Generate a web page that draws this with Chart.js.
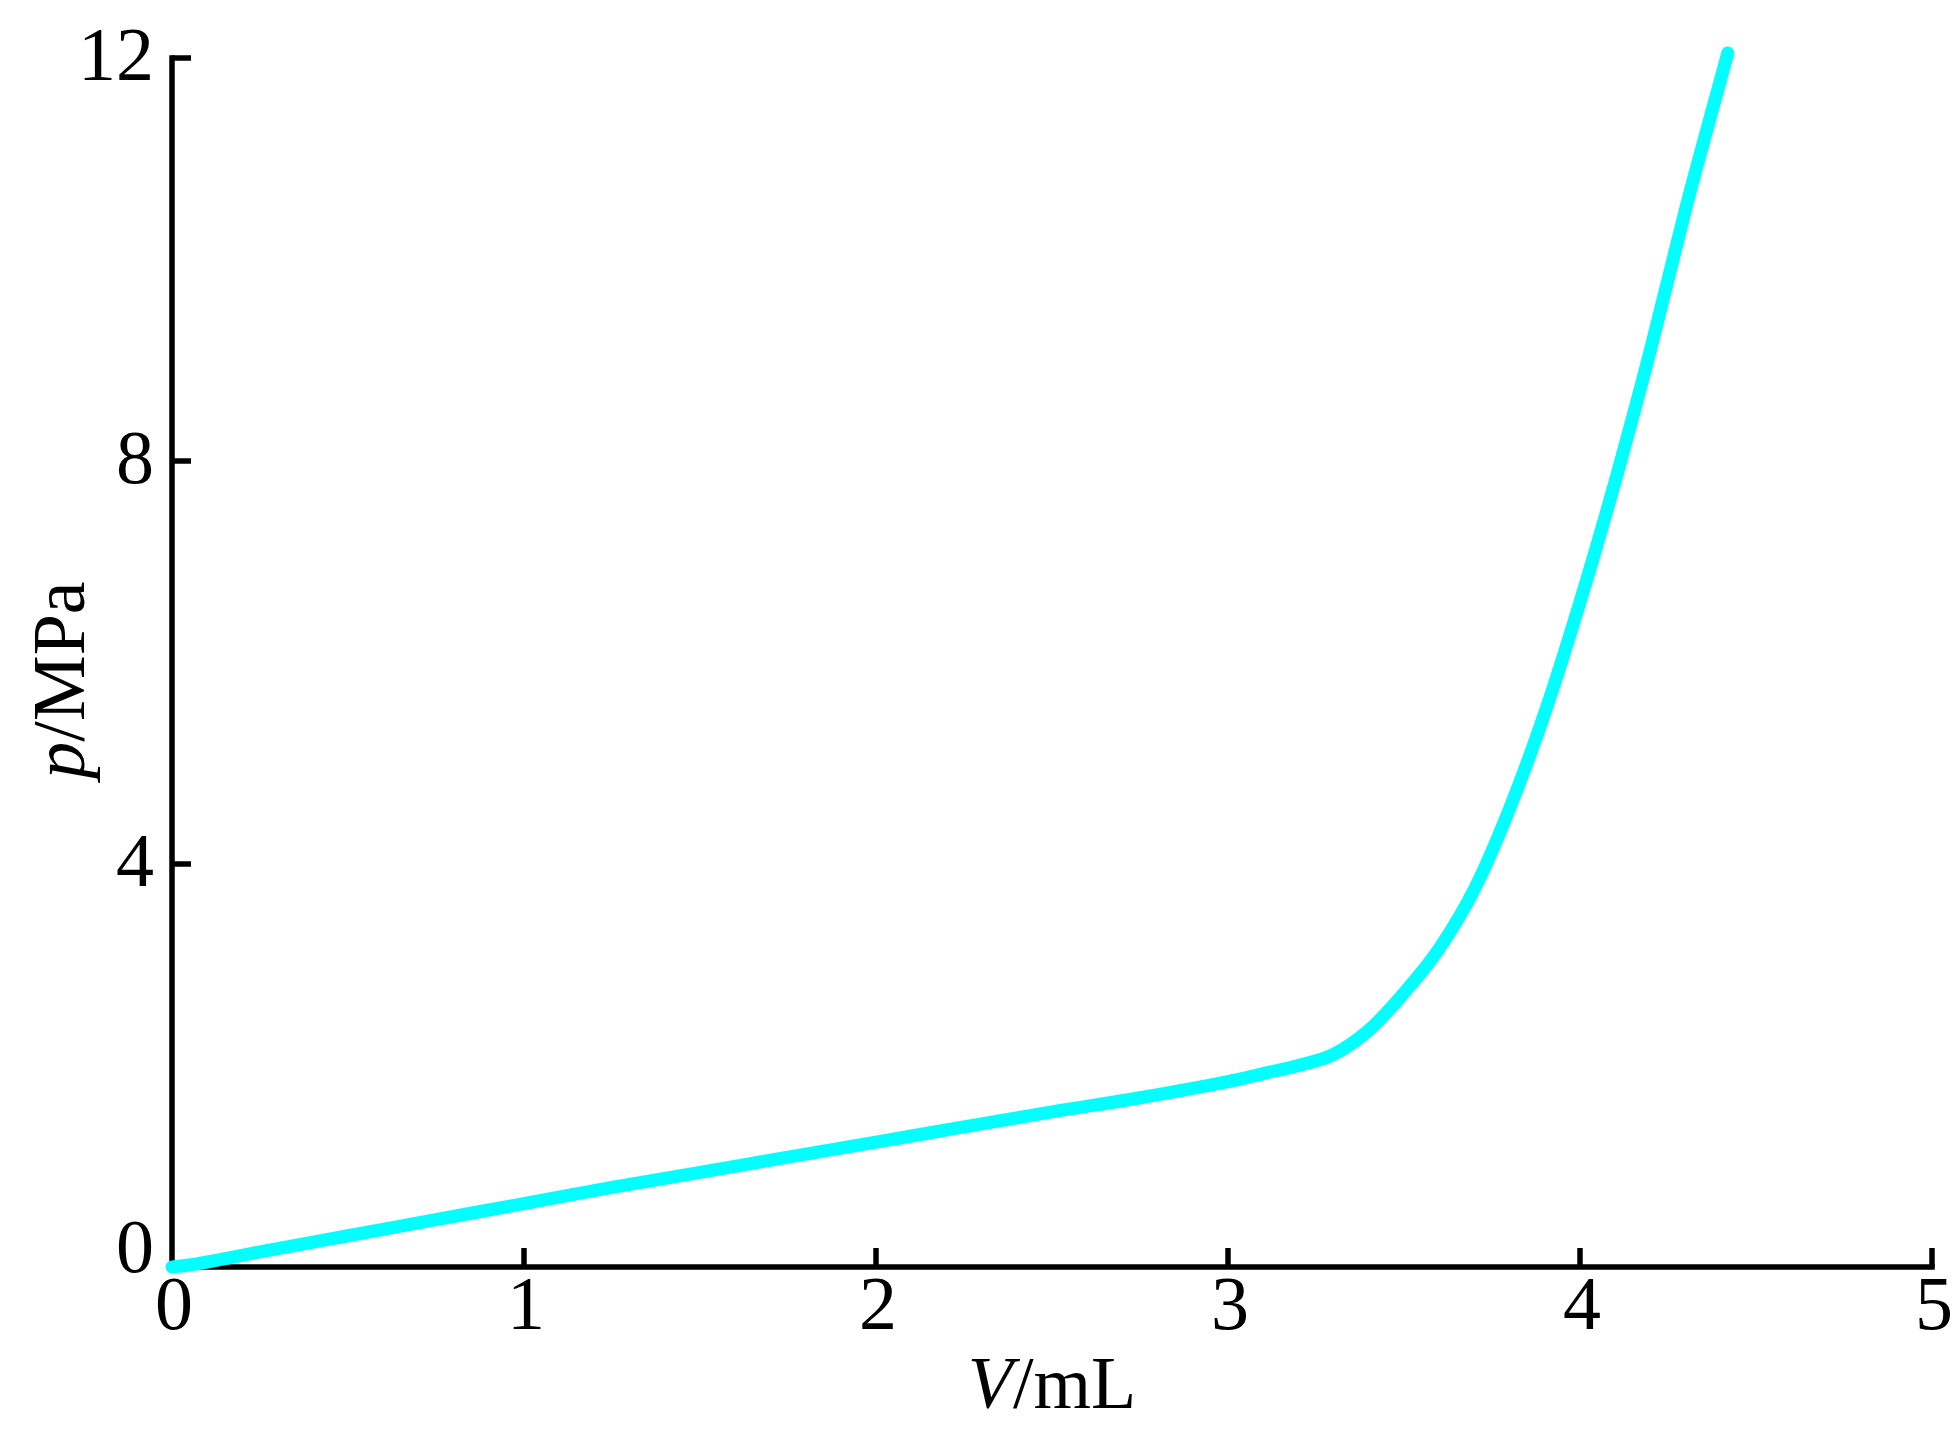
<!DOCTYPE html>
<html>
<head>
<meta charset="utf-8">
<script src="https://cdn.jsdelivr.net/npm/chart.js@4.4.1/dist/chart.umd.min.js"></script>
<style>
  html, body { margin: 0; padding: 0; background: #ffffff; }
  #wrap { width: 1955px; height: 1430px; position: relative; }
</style>
</head>
<body>
<div id="wrap"><canvas id="c" width="1955" height="1430"></canvas></div>
<script>
// Data
const volumeML = [0, 0.05, 0.25, 0.5, 0.75, 1.0, 1.25, 1.5, 1.75, 2.0, 2.25, 2.5, 2.75, 3.0, 3.1, 3.2, 3.3, 3.4, 3.5, 3.6, 3.7, 3.8, 3.9, 4.0, 4.1, 4.2, 4.3, 4.42];
const pressureMPa = [0, 0.02, 0.15, 0.31, 0.47, 0.63, 0.79, 0.94, 1.09, 1.24, 1.39, 1.54, 1.68, 1.84, 1.92, 2.0, 2.11, 2.35, 2.72, 3.16, 3.75, 4.55, 5.5, 6.6, 7.8, 9.1, 10.5, 12.05];
const xTicks = [0, 1, 2, 3, 4, 5];
const yTicks = [0, 4, 8, 12];
const xTitleItalic = "V";
const xTitleRest = "/mL";
const yTitleItalic = "p";
const yTitleRest = "/MPa";

const points = volumeML.map((v, i) => ({ x: v, y: pressureMPa[i] }));

const SERIF = '"Liberation Serif", "Times New Roman", serif';

const axisLines = {
  id: 'axisLines',
  beforeDatasetsDraw(chart) {
    const ctx = chart.ctx;
    const xs = chart.scales.x, ys = chart.scales.y;
    const x0 = xs.getPixelForValue(0), x1 = xs.getPixelForValue(5);
    const y0 = ys.getPixelForValue(0), y1 = ys.getPixelForValue(12);
    const tickLen = 19;
    ctx.save();
    ctx.strokeStyle = '#000';
    ctx.lineWidth = 5.5;
    ctx.lineCap = 'square';
    ctx.lineJoin = 'miter';
    ctx.beginPath();
    ctx.moveTo(x0, y1);
    ctx.lineTo(x0, y0);
    ctx.lineTo(x1, y0);
    ctx.stroke();
    ctx.lineCap = 'butt';
    xTicks.forEach(v => {
      if (v === 0) return;
      const px = xs.getPixelForValue(v);
      ctx.beginPath();
      ctx.moveTo(px, y0);
      ctx.lineTo(px, y0 - tickLen);
      ctx.stroke();
    });
    yTicks.forEach(v => {
      if (v === 0) return;
      const py = ys.getPixelForValue(v);
      ctx.beginPath();
      ctx.moveTo(x0, py);
      ctx.lineTo(x0 + tickLen, py);
      ctx.stroke();
    });
    ctx.restore();
  },
  afterDraw(chart) {
    const ctx = chart.ctx;
    const xs = chart.scales.x, ys = chart.scales.y;
    const ca = chart.chartArea;
    ctx.save();
    ctx.fillStyle = '#000';
    ctx.font = '76px ' + SERIF;
    ctx.textAlign = 'center';
    ctx.textBaseline = 'alphabetic';
    xTicks.forEach(v => {
      const px = xs.getPixelForValue(v);
      ctx.fillText(String(v), px + 2, ca.bottom + 62);
    });
    ctx.textAlign = 'right';
    ctx.textBaseline = 'middle';
    yTicks.forEach(v => {
      let py = ys.getPixelForValue(v);
      if (v === 0) py -= 17;
      ctx.fillText(String(v), ca.left - 18, py + 2);
    });
    const fItal = 'italic 74px ' + SERIF;
    const fNorm = '74px ' + SERIF;
    ctx.textBaseline = 'alphabetic';
    ctx.textAlign = 'left';
    ctx.font = fItal; const w1 = ctx.measureText(xTitleItalic).width;
    ctx.font = fNorm; const w2 = ctx.measureText(xTitleRest).width;
    const cx = (ca.left + ca.right) / 2 - (w1 + w2) / 2;
    ctx.font = fItal; ctx.fillText(xTitleItalic, cx, 1408);
    ctx.font = fNorm; ctx.fillText(xTitleRest, cx + w1, 1408);
    ctx.save();
    ctx.translate(84, 680);
    ctx.rotate(-Math.PI / 2);
    ctx.font = fItal; const w3 = ctx.measureText(yTitleItalic).width;
    ctx.font = fNorm; const w4 = ctx.measureText(yTitleRest).width;
    const sx = -(w3 + w4) / 2;
    ctx.font = fItal; ctx.fillText(yTitleItalic, sx, 0);
    ctx.font = fNorm; ctx.fillText(yTitleRest, sx + w3, 0);
    ctx.restore();
    ctx.restore();
  }
};

new Chart(document.getElementById('c'), {
  type: 'scatter',
  data: {
    datasets: [{
      data: points,
      showLine: true,
      borderColor: '#00FFFF',
      backgroundColor: '#00FFFF',
      borderWidth: 13,
      borderCapStyle: 'round',
      borderJoinStyle: 'round',
      pointRadius: 0,
      cubicInterpolationMode: 'monotone',
      clip: false
    }]
  },
  options: {
    responsive: false,
    animation: false,
    devicePixelRatio: 1,
    layout: { padding: { left: 172, right: 23, top: 58, bottom: 163 } },
    plugins: { legend: { display: false }, tooltip: { enabled: false } },
    scales: {
      x: {
        type: 'linear', min: 0, max: 5,
        ticks: { display: false, stepSize: 1 },
        grid: { display: false, drawTicks: false },
        border: { display: false },
        afterFit(s) { s.height = 0; }
      },
      y: {
        type: 'linear', min: 0, max: 12,
        ticks: { display: false, stepSize: 4 },
        grid: { display: false, drawTicks: false },
        border: { display: false },
        afterFit(s) { s.width = 0; }
      }
    }
  },
  plugins: [axisLines]
});
</script>
</body>
</html>
